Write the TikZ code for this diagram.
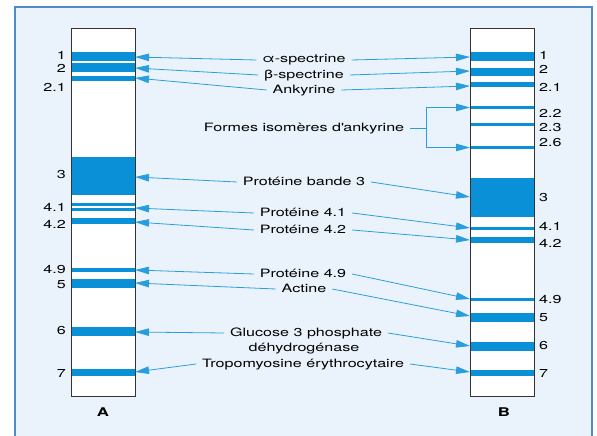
\documentclass[tikz,border=0pt]{standalone}
\usepackage{fontspec}
\setmainfont{TeX Gyre Heros}[FakeStretch=1.4]
\usetikzlibrary{arrows.meta}

\definecolor{panelfill}{HTML}{EAF3FB}
\definecolor{panelline}{HTML}{4F8BCB}
\definecolor{bandblue}{HTML}{0A90D7}
\definecolor{leader}{HTML}{2A9EDD}
\definecolor{colline}{HTML}{333333}

\begin{document}
\begin{tikzpicture}[x=1pt,y=-1pt,
  txt/.style={font=\fontsize{11.5}{14}\selectfont, inner sep=0pt},
  lab/.style={txt, outer xsep=6pt, outer ysep=0pt, text height=8.5pt, text depth=2.5pt, anchor=center},
  numl/.style={txt, anchor=east},
  numr/.style={txt, anchor=west},
  lane/.style={font=\fontsize{12}{14}\selectfont\bfseries, inner sep=0pt},
  line/.style={leader, line width=0.8pt},
  arr/.style={line, -{Triangle[length=14pt,width=7.5pt]}},
  band/.style={fill=bandblue},
  gel/.style={draw=colline, line width=0.9pt}]

\useasboundingbox (0,0) rectangle (597,436);

% panel
\fill[panelfill] (15,7) rectangle (592,436);
\draw[panelline, line width=1.3pt] (15,436) -- (15,7) -- (592,7) -- (592,436);

% gel A
\fill[white] (71,28) rectangle (135,396);
\foreach \t/\b in {52/61, 63/72, 76/81, 157/195, 203/205.5, 207.5/211,
                   218/224, 268/272, 279/288, 327/336, 369/376}
  \fill[band] (71,\t) rectangle (135,\b);
\draw[gel] (71,28) rectangle (135,396);

% gel B
\fill[white] (470,28) rectangle (534,396);
\foreach \t/\b in {52/61, 68/76, 82/87, 106/109, 123/126, 146/149, 178/217,
                   227/230, 237/243, 298/301, 313/322, 342/351, 370/376}
  \fill[band] (470,\t) rectangle (534,\b);
\draw[gel] (470,28) rectangle (534,396);

% band numbers, gel A
\foreach \n/\y in {1/55, 2/68, 2.1/87, 3/175, 4.1/207, 4.2/224, 4.9/270, 5/285, 6/331, 7/374}
  \node[numl] at (66,\y) {\n};
% band numbers, gel B
\foreach \n/\y in {1/55, 2/69, 2.1/87, 2.2/113, 2.3/128, 2.6/143, 3/198, 4.1/226,
                   4.2/243, 4.9/300, 5/318, 6/346, 7/374}
  \node[numr] at (539,\y) {\n};

\node[lane] (laneA) at (103,412) {A};
\node[lane] (laneB) at (504,412) {B};

% protein names
\node[lab] (alpha)  at (304,60)  {α-spectrine};
\node[lab] (beta)   at (304,75)  {β-spectrine};
\node[lab] (ank)    at (304,90)  {Ankyrine};
\node[lab] (formes) at (304,128) {Formes isomères d\textquotesingle ankyrine};
\node[lab] (b3)     at (304,182) {Protéine bande 3};
\node[lab] (p41)    at (303,213) {Protéine 4.1};
\node[lab] (p42)    at (303,230) {Protéine 4.2};
\node[lab] (p49)    at (303,274) {Protéine 4.9};
\node[lab] (act)    at (304,289) {Actine};
\node[lab] (glu)    at (306,333) {Glucose 3 phosphate};
\node[lab] (dehyd)  at (304,348) {déhydrogénase};
\node[lab] (tropo)  at (303,364) {Tropomyosine érythrocytaire};

% arrow ends on gel A
\coordinate (a1)  at (135,57);
\coordinate (a2)  at (135,68);
\coordinate (a21) at (135,78);
\coordinate (a3)  at (135,177);
\coordinate (a41) at (135,208);
\coordinate (a42) at (135,222);
\coordinate (a49) at (135,270);
\coordinate (a5)  at (135,283);
\coordinate (a6)  at (135,332);
\coordinate (a7)  at (135,372);
% arrow ends on gel B
\coordinate (b1)  at (470,57);
\coordinate (b2)  at (470,71);
\coordinate (b21) at (470,86);
\coordinate (b22) at (470,107.5);
\coordinate (b26) at (470,147.5);
\coordinate (b3e) at (470,197);
\coordinate (b41) at (470,228);
\coordinate (b42) at (470,240);
\coordinate (b49) at (470,299);
\coordinate (b5)  at (470,316);
\coordinate (b6)  at (470,346);
\coordinate (b7)  at (470,372);
\coordinate (brk) at (426,128);

% leaders
\draw[arr] (alpha.west) -- (a1);   \draw[arr] (alpha.east) -- (b1);
\draw[arr] (beta.west)  -- (a2);   \draw[arr] (beta.east)  -- (b2);
\draw[arr] (ank.west)   -- (a21);  \draw[arr] (ank.east)   -- (b21);
\draw[line] (formes.east) -- (brk);
\draw[arr] (brk) |- (b22);
\draw[arr] (brk) |- (b26);
\draw[arr] (b3.west)  -- (a3);     \draw[arr] (b3.east)  -- (b3e);
\draw[arr] (p41.west) -- (a41);    \draw[arr] (p41.east) -- (b41);
\draw[arr] (p42.west) -- (a42);    \draw[arr] (p42.east) -- (b42);
\draw[arr] (p49.west) -- (a49);    \draw[arr] (p49.east) -- (b49);
\draw[arr] (act.west) -- (a5);     \draw[arr] (act.east) -- (b5);
\draw[arr] (glu.west) -- (a6);     \draw[arr] (glu.east) -- (b6);
\draw[arr] (tropo.west) -- (a7);   \draw[arr] (tropo.east) -- (b7);
\end{tikzpicture}
\end{document}
